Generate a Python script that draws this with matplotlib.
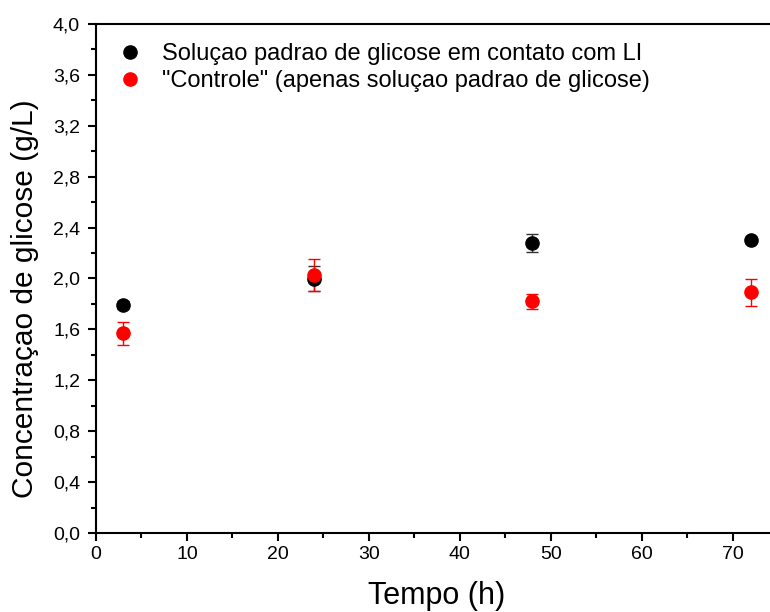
import matplotlib.pyplot as plt
from matplotlib.ticker import MultipleLocator, FuncFormatter

plt.rcParams['font.family'] = ['Liberation Sans', 'DejaVu Sans']

tempo = [3, 24, 48, 72]
conc_li = [1.79, 2.00, 2.28, 2.30]
err_li = [0.03, 0.10, 0.07, 0.015]
conc_ctrl = [1.57, 2.03, 1.82, 1.89]
err_ctrl = [0.09, 0.125, 0.06, 0.11]

lab_li = "Soluçao padrao de glicose em contato com LI"
lab_ctrl = '"Controle" (apenas soluçao padrao de glicose)'

fig = plt.figure(figsize=(7.7, 6.12), dpi=100)
ax = fig.add_axes([96/770, 79/612, 682/770, 509/612])

c1 = ax.errorbar(tempo, conc_li, yerr=err_li, fmt='o', color='black', ecolor='#333333',
                 ms=9.5, capsize=4, elinewidth=1, capthick=1, label=lab_li)
c2 = ax.errorbar(tempo, conc_ctrl, yerr=err_ctrl, fmt='o', color='red', ecolor='red',
                 ms=9.5, capsize=4, elinewidth=1, capthick=1, label=lab_ctrl)

ax.set_xlim(0, 75)
ax.set_ylim(0, 4.0)
ax.xaxis.set_major_locator(MultipleLocator(10))
ax.xaxis.set_minor_locator(MultipleLocator(5))
ax.yaxis.set_major_locator(MultipleLocator(0.4))
ax.yaxis.set_minor_locator(MultipleLocator(0.2))
ax.yaxis.set_major_formatter(FuncFormatter(lambda v, p: f"{v:.1f}".replace('.', ',')))

for s in ax.spines.values():
    s.set_linewidth(1.5)
ax.tick_params(which='major', direction='out', length=6, width=1.5, labelsize=14)
ax.tick_params(axis='y', which='major', pad=5.5)
ax.tick_params(which='minor', direction='out', length=3.5, width=1.5)

ax.set_xlabel("Tempo (h)", fontsize=22)
ax.set_ylabel("Concentraçao de glicose (g/L)", fontsize=21.5)
ax.xaxis.set_label_coords(0.5, -0.094)
ax.yaxis.set_label_coords(-0.084, 0.46)

ax.legend(handles=[c1[0], c2[0]], labels=[lab_li, lab_ctrl], loc='upper left',
          frameon=False, fontsize=17, handletextpad=0.7, handlelength=1.3,
          borderaxespad=0.4, labelspacing=0.22)

fig.savefig("out.png", dpi=100)
